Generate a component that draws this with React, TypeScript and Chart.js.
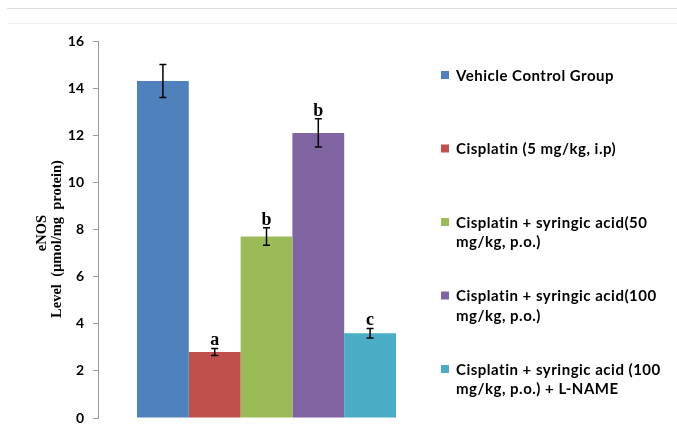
import React, { useEffect, useRef } from "react";
import { Chart, registerables } from "chart.js";

Chart.register(...registerables);

const groups: string[][] = [
  ["Vehicle Control Group"],
  ["Cisplatin (5 mg/kg, i.p)"],
  ["Cisplatin + syringic acid(50", "mg/kg, p.o.)"],
  ["Cisplatin + syringic acid(100", "mg/kg, p.o.)"],
  ["Cisplatin + syringic acid (100", "mg/kg, p.o.) + L-NAME"],
];
const values: number[] = [14.3, 2.8, 7.7, 12.1, 3.6];
const errors: number[] = [0.7, 0.15, 0.37, 0.6, 0.2];
const letters: string[] = ["", "a", "b", "b", "c"];
const colors: string[] = ["#4F81BD", "#C0504D", "#9BBB59", "#8064A2", "#4BACC6"];
const yTitle: string[] = ["eNOS", "Level  (\u00B5mol/mg  protein)"];
const categories: string[] = ["eNOS"];

const decorPlugin = {
  id: "decor",
  afterDraw(chart: any) {
    const ctx = chart.ctx;
    const y = chart.scales.y;
    ctx.save();
    // top separator lines
    ctx.strokeStyle = "#dddddd";
    ctx.lineWidth = 1;
    ctx.beginPath();
    ctx.moveTo(7, 8.5);
    ctx.lineTo(677, 8.5);
    ctx.stroke();
    ctx.strokeStyle = "#f0f0f0";
    ctx.beginPath();
    ctx.moveTo(7, 23.5);
    ctx.lineTo(677, 23.5);
    ctx.stroke();

    // error bars and letters
    values.forEach((v, i) => {
      const bar = chart.getDatasetMeta(i).data[0];
      const x = bar.x;
      const top = y.getPixelForValue(v + errors[i]);
      const bot = y.getPixelForValue(v - errors[i]);
      ctx.strokeStyle = "#000";
      ctx.lineWidth = 1.5;
      ctx.beginPath();
      ctx.moveTo(x, top);
      ctx.lineTo(x, bot);
      ctx.moveTo(x - 3.5, top);
      ctx.lineTo(x + 3.5, top);
      ctx.moveTo(x - 3.5, bot);
      ctx.lineTo(x + 3.5, bot);
      ctx.stroke();
      if (letters[i]) {
        ctx.fillStyle = "#000";
        ctx.font = "bold 18px 'Liberation Serif', serif";
        ctx.textAlign = "center";
        ctx.textBaseline = "alphabetic";
        ctx.fillText(letters[i], x, top - 3);
      }
    });

    // y-axis title
    ctx.save();
    ctx.translate(0, 235);
    ctx.rotate(-Math.PI / 2);
    ctx.fillStyle = "#000";
    ctx.font = "bold 14.5px 'Liberation Serif', serif";
    ctx.textAlign = "center";
    ctx.textBaseline = "middle";
    ctx.fillText(yTitle[0], 2, 42);
    ctx.fillText(yTitle[1], -4, 57);
    ctx.restore();

    // legend
    ctx.font = "bold 15px Lato, sans-serif";
    (ctx as any).letterSpacing = "0.5px";
    ctx.textAlign = "left";
    ctx.textBaseline = "middle";
    groups.forEach((lines, i) => {
      const y0 = 76 + i * 73.5;
      ctx.fillStyle = colors[i];
      ctx.fillRect(441, y0 - 5, 8, 8);
      ctx.fillStyle = "#000";
      lines.forEach((t, j) => {
        ctx.fillText(t, 456, y0 + j * 19.5);
      });
    });
    (ctx as any).letterSpacing = "0px";
    ctx.restore();
  },
};

export default function App() {
  const ref = useRef<HTMLCanvasElement | null>(null);
  useEffect(() => {
    if (!ref.current) return;
    const chart = new Chart(ref.current, {
      type: "bar",
      data: {
        labels: categories,
        datasets: groups.map((g, i) => ({
          label: g.join(" "),
          data: [values[i]],
          backgroundColor: colors[i],
          borderWidth: 0,
          categoryPercentage: 259 / 337,
          barPercentage: 1,
        })),
      },
      options: {
        animation: false,
        responsive: true,
        maintainAspectRatio: false,
        layout: { padding: { left: 0, top: 41, right: 242, bottom: 14 } },
        plugins: { legend: { display: false }, tooltip: { enabled: false } },
        scales: {
          x: { display: false },
          y: {
            min: 0,
            max: 16,
            afterFit: (s: any) => {
              s.width = 98;
              s.paddingBottom = 0;
              s.paddingTop = 0;
            },
            ticks: {
              stepSize: 2,
              color: "#000",
              padding: 9,
              font: { family: "Lato, sans-serif", weight: "bold", size: 14 },
            },
            grid: { drawOnChartArea: false, color: "#999", tickLength: 5 },
            border: { display: true, color: "#999" },
          },
        },
      },
      plugins: [decorPlugin],
    });
    return () => chart.destroy();
  }, []);
  return (
    <div style={{ position: "absolute", left: 0, top: 0, width: 677, height: 432, background: "#fff" }}>
      <canvas ref={ref} />
    </div>
  );
}
